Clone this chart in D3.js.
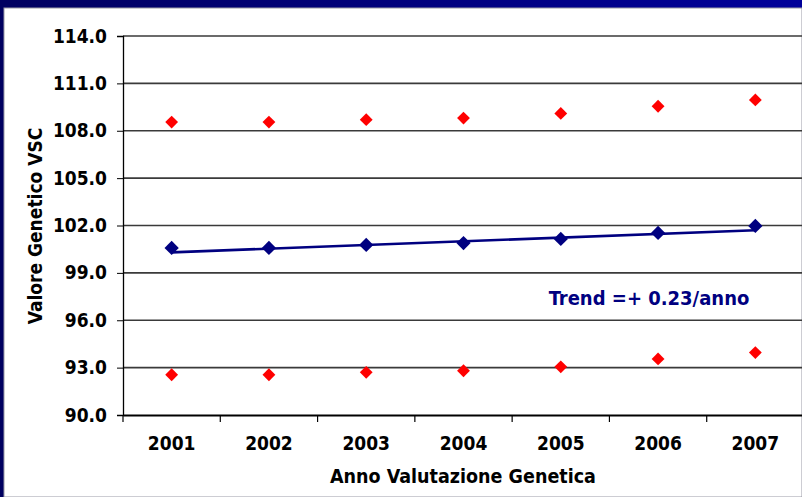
<!DOCTYPE html>
<html><head><meta charset="utf-8">
<script src="https://cdn.jsdelivr.net/npm/d3@7"></script>
<style>body{margin:0;padding:0;overflow:hidden;background:#fff}svg{display:block}</style>
</head><body>
<script>
const years = ["2001","2002","2003","2004","2005","2006","2007"];
const upperValues = [108.55, 108.55, 108.7, 108.8, 109.1, 109.55, 109.95];
const meanValues  = [100.58, 100.58, 100.77, 100.89, 101.15, 101.53, 101.97];
const lowerValues = [92.55, 92.55, 92.7, 92.8, 93.05, 93.55, 93.95];
const trendYears = ["2001","2007"];
const trendValues = [100.3, 101.7];
const yTicks = [90, 93, 96, 99, 102, 105, 108, 111, 114];
const trendLabel = "Trend =+ 0.23/anno";
const xTitle = "Anno Valutazione Genetica";
const yTitle = "Valore Genetico VSC";

const W = 802, H = 497;
const m = {left:123, top:36, right:-2, bottom:82};
const font = "Tahoma, 'DejaVu Sans Condensed', 'DejaVu Sans', sans-serif";

const svg = d3.select("body").append("svg").attr("width", W).attr("height", H);
const defs = svg.append("defs");
const g1 = defs.append("linearGradient").attr("id","frame").attr("x1","0").attr("x2","1").attr("y1","0").attr("y2","0");
g1.append("stop").attr("offset","0").attr("stop-color","#000060");
g1.append("stop").attr("offset","1").attr("stop-color","#00009a");
svg.append("rect").attr("width",W).attr("height",H).attr("fill","url(#frame)");
svg.append("rect").attr("x",4).attr("y",8).attr("width",W-4).attr("height",H-8).attr("fill","#fff").attr("stroke","#9a9aa6").attr("stroke-width",1);

const x = d3.scaleBand().domain(years).range([m.left, W - m.right]).paddingInner(0).paddingOuter(0);
const y = d3.scaleLinear().domain([90,114]).range([H - m.bottom, m.top]);

// gridlines
svg.append("g").selectAll("line").data(yTicks.slice(1)).join("line")
  .attr("x1", m.left).attr("x2", W).attr("y1", d=>y(d)).attr("y2", d=>y(d))
  .attr("stroke","#3a3a3a").attr("stroke-width",1.6);

// y axis
const ya = svg.append("g").attr("transform",`translate(${m.left},0)`)
  .call(d3.axisLeft(y).tickValues(yTicks).tickFormat(d3.format(".1f")).tickSize(6).tickPadding(10));
ya.select(".domain").attr("stroke","#000").attr("stroke-width",1.3);
ya.selectAll(".tick line").attr("stroke","#000");
ya.selectAll("text").attr("font-family",font).attr("font-weight","bold").attr("font-size",19).attr("fill","#000");

// x axis
const xa = svg.append("g").attr("transform",`translate(0,${H - m.bottom})`)
  .call(d3.axisBottom(x).tickSize(0).tickPadding(22));
xa.select(".domain").attr("stroke","#000").attr("stroke-width",2);
xa.selectAll("text").attr("font-family",font).attr("font-weight","bold").attr("font-size",19).attr("fill","#000");
xa.append("g").selectAll("line").data(years).join("line")
  .attr("x1", d=>x(d)).attr("x2", d=>x(d)).attr("y1",0).attr("y2",7).attr("stroke","#000").attr("stroke-width",1.2);

// titles
svg.append("text").attr("x", 463).attr("y", 483).attr("text-anchor","middle")
  .attr("font-family",font).attr("font-weight","bold").attr("font-size",19.5).text(xTitle);
svg.append("text").attr("transform","translate(42,226) rotate(-90)").attr("text-anchor","middle")
  .attr("font-family",font).attr("font-weight","bold").attr("font-size",19).text(yTitle);

const cx = d => x(d) + x.bandwidth()/2;
const diamond = d3.symbol().type(d3.symbolDiamond2);

// trend line
svg.append("path").datum(trendYears.map((d,i)=>[cx(d), y(trendValues[i])]))
  .attr("d", d3.line()).attr("stroke","#000080").attr("stroke-width",2.6).attr("fill","none");

function pts(vals, color, size){
  svg.append("g").selectAll("path").data(vals).join("path")
    .attr("transform",(d,i)=>`translate(${cx(years[i])},${y(d)})`)
    .attr("d", diamond.size(size)()).attr("fill",color);
}
pts(upperValues, "#ff0000", 105);
pts(lowerValues, "#ff0000", 105);
pts(meanValues, "#000080", 130);

svg.append("text").attr("x", 649).attr("y", 305).attr("text-anchor","middle")
  .attr("font-family",font).attr("font-weight","bold").attr("font-size",20).attr("fill","#000080").text(trendLabel);
</script>
</body></html>
